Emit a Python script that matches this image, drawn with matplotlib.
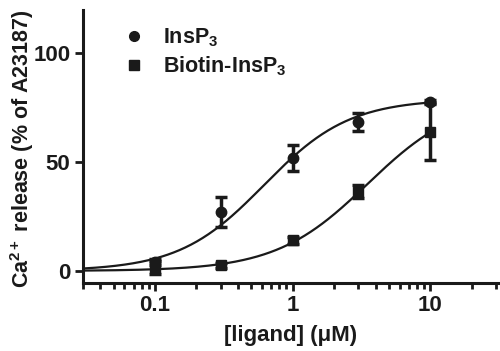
import numpy as np
import matplotlib
matplotlib.use("Agg")
import matplotlib.pyplot as plt
from matplotlib.lines import Line2D
from matplotlib.ticker import LogLocator, FixedLocator, NullFormatter

plt.rcParams['font.family'] = ['Liberation Sans', 'DejaVu Sans']
plt.rcParams['font.weight'] = 'bold'
plt.rcParams['mathtext.fontset'] = 'custom'
plt.rcParams['mathtext.rm'] = 'Liberation Sans:bold'
plt.rcParams['mathtext.bf'] = 'Liberation Sans:bold'
plt.rcParams['mathtext.it'] = 'Liberation Sans:bold'
plt.rcParams['mathtext.default'] = 'rm'

# Data
conc = [0.1, 0.3, 1, 3, 10]
insp3 = [4, 27, 52, 68.5, 77.5]
insp3_err = [1.5, 7, 6, 4, 1]
biotin = [1.5, 2.5, 14, 36.5, 64]
biotin_err = [3, 1, 1.5, 3, 13]

# Fitted sigmoid parameters (top, EC50, Hill)
insp3_fit = (79, 0.62, 1.4)
biotin_fit = (80, 3.5, 1.3)

x_ticks = [0.1, 1, 10]
x_ticklabels = ['0.1', '1', '10']
y_ticks = [0, 50, 100]

color = '#1a1a1a'

fig = plt.figure(figsize=(5.0, 3.51), dpi=100)
ax = fig.add_axes([0.166, 0.194, 0.830, 0.778])

xs = np.logspace(np.log10(0.03), np.log10(10), 300)
for (top, ec50, n) in (insp3_fit, biotin_fit):
    ys = top * (xs / ec50) ** n / (1 + (xs / ec50) ** n)
    ax.plot(xs, ys, color=color, lw=1.6, zorder=2)

ax.errorbar(conc, insp3, yerr=insp3_err, fmt='o', color=color, ms=7.5,
            capsize=4, capthick=2.5, elinewidth=2.5, zorder=3)
ax.errorbar(conc, biotin, yerr=biotin_err, fmt='s', color=color, ms=7.5,
            capsize=4, capthick=2.5, elinewidth=2.5, zorder=3)

ax.set_xscale('log')
ax.set_xlim(0.03, 31)
ax.set_ylim(-5.5, 120)
ax.xaxis.set_major_locator(FixedLocator(x_ticks))
ax.set_xticklabels(x_ticklabels)
ax.xaxis.set_minor_locator(LogLocator(base=10, subs=np.arange(2, 10)))
ax.xaxis.set_minor_formatter(NullFormatter())
ax.set_yticks(y_ticks)

for s in ('top', 'right'):
    ax.spines[s].set_visible(False)
for s in ('left', 'bottom'):
    ax.spines[s].set_linewidth(2.2)
    ax.spines[s].set_color(color)

ax.tick_params(axis='both', which='major', length=6, width=2, color=color,
               labelsize=16, labelcolor=color, pad=3)
ax.tick_params(axis='x', which='minor', length=4, width=2, color=color)

ax.set_xlabel('[ligand] (μM)', fontsize=16, fontweight='bold', color=color, labelpad=6)
ax.set_ylabel('Ca$^{2+}$ release (% of A23187)', fontsize=15.5, fontweight='bold',
              color=color, va='center')
ax.yaxis.set_label_coords(-0.148, 0.49)

handles = [Line2D([], [], marker='o', ls='none', color=color, ms=7),
           Line2D([], [], marker='s', ls='none', color=color, ms=6.5)]
ax.legend(handles, ['InsP$_3$', 'Biotin-InsP$_3$'], loc='upper left',
          bbox_to_anchor=(0.045, 1.01), frameon=False, fontsize=15.5,
          handletextpad=0.75, labelspacing=0.25, handlelength=1.2,
          labelcolor=color)

fig.savefig('out.png', dpi=100)
